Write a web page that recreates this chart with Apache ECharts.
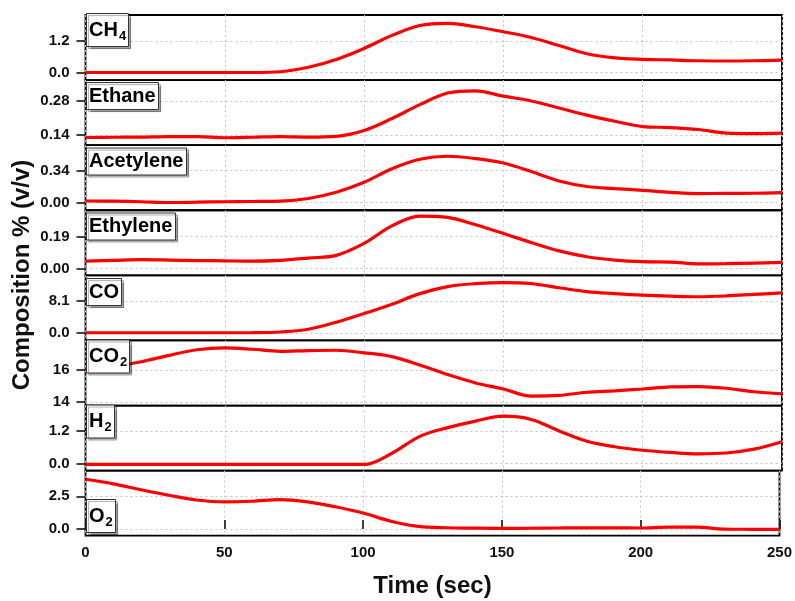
<!DOCTYPE html>
<html>
<head>
<meta charset="utf-8">
<script src="https://cdn.jsdelivr.net/npm/echarts@6/dist/echarts.min.js"></script>
<style>
  html, body { margin: 0; padding: 0; background: #fff; }
  #chart { width: 795px; height: 601px; }
</style>
</head>
<body>
<div id="chart"></div>
<script>
// time axis (sec)
const time = [0, 10, 20, 30, 40, 50, 60, 70, 80, 90, 100, 110, 120, 130, 140, 150, 160, 170, 180, 190, 200, 210, 220, 230, 240, 250];

// composition % (v/v)
const ch4 = [0, 0, 0, 0, 0, 0, 0, 0.03, 0.2, 0.5, 0.92, 1.42, 1.8, 1.88, 1.75, 1.56, 1.34, 1.03, 0.72, 0.56, 0.505, 0.48, 0.45, 0.44, 0.45, 0.47];
const ethane = [0.129, 0.13, 0.131, 0.133, 0.133, 0.128, 0.13, 0.133, 0.131, 0.134, 0.158, 0.207, 0.264, 0.312, 0.321, 0.299, 0.279, 0.25, 0.221, 0.196, 0.174, 0.17, 0.162, 0.147, 0.145, 0.147];
const acetylene = [0.018, 0.016, 0.01, 0.002, 0.006, 0.01, 0.013, 0.017, 0.045, 0.11, 0.216, 0.36, 0.46, 0.492, 0.467, 0.42, 0.33, 0.23, 0.172, 0.15, 0.131, 0.11, 0.097, 0.098, 0.1, 0.106];
const ethylene = [0.044, 0.048, 0.052, 0.05, 0.047, 0.045, 0.043, 0.048, 0.062, 0.078, 0.15, 0.255, 0.314, 0.306, 0.262, 0.21, 0.155, 0.105, 0.07, 0.05, 0.04, 0.038, 0.027, 0.028, 0.032, 0.036];
const co = [0, 0, 0, 0, 0, 0, 0.02, 0.2, 0.9, 2.7, 4.9, 7.3, 10.0, 11.8, 12.55, 12.8, 12.55, 11.5, 10.5, 10.0, 9.6, 9.35, 9.2, 9.4, 9.8, 10.2];
const co2 = [16.0, 16.2, 16.5, 16.9, 17.25, 17.37, 17.28, 17.15, 17.2, 17.22, 17.06, 16.82, 16.3, 15.7, 15.18, 14.8, 14.36, 14.4, 14.6, 14.69, 14.8, 14.93, 14.95, 14.85, 14.63, 14.5];
const h2 = [-0.025, -0.025, -0.025, -0.025, -0.025, -0.025, -0.025, -0.025, -0.025, -0.025, -0.03, 0.38, 1.0, 1.32, 1.56, 1.74, 1.62, 1.2, 0.82, 0.62, 0.49, 0.41, 0.36, 0.39, 0.53, 0.8];
const o2 = [3.8, 3.45, 3.0, 2.58, 2.22, 2.07, 2.12, 2.25, 2.08, 1.7, 1.22, 0.6, 0.2, 0.1, 0.07, 0.05, 0.06, 0.08, 0.1, 0.09, 0.08, 0.15, 0.15, 0.0, -0.02, -0.03];

const gases = [ch4, ethane, acetylene, ethylene, co, co2, h2, o2];
const gasLabels = ['{a|CH}{s|4}', '{a|Ethane}', '{a|Acetylene}', '{a|Ethylene}', '{a|CO}', '{a|CO}{s|2}', '{a|H}{s|2}', '{a|O}{s|2}'];
const yTicks = [[0, 1.2], [0.14, 0.28], [0, 0.34], [0, 0.19], [0, 8.1], [14, 16], [0, 1.2], [0, 2.5]];
const yDecimals = [1, 2, 2, 2, 1, 0, 1, 1];
const yRanges = [[-0.29, 2.2], [0.0975, 0.365], [-0.08, 0.609], [-0.042, 0.349], [-1.96, 14.66], [13.77, 17.83], [-0.257, 2.13], [-0.51, 4.46]];
const labelTops = [15, 81, 146.5, 211.5, 277, 341.5, 406.5, 501];

const chart = echarts.init(document.getElementById('chart'));

const plotLeft = 85.5;
const plotWidth = 696.5;
const plotTop = 15;
const panelH = 65.09;
const n = gases.length;

const grids = [];
const xAxes = [];
const yAxes = [];
const series = [];
const titles = [];

const dotted = { show: true, lineStyle: { color: '#c4c4c4', type: [2, 3], width: 1 } };
const tickFont = { color: '#111', fontSize: 15, fontWeight: 'bold', fontFamily: 'Liberation Sans, Arial, sans-serif' };

for (let i = 0; i < n; i += 1) {
  const last = i === n - 1;
  grids.push({
    left: plotLeft,
    width: plotWidth,
    top: plotTop + i * panelH,
    height: panelH,
    show: true,
    borderColor: '#000',
    borderWidth: 1.8,
    backgroundColor: 'transparent',
  });
  xAxes.push({
    type: 'value',
    gridIndex: i,
    min: 0,
    max: 250,
    interval: 50,
    axisLine: { show: false },
    axisTick: last ? { show: true, inside: true, length: 9, lineStyle: { color: '#111', width: 1.6 } } : { show: false },
    axisLabel: last ? Object.assign({ show: true, margin: 10 }, tickFont) : { show: false },
    splitLine: dotted,
    name: last ? 'Time (sec)' : '',
    nameLocation: 'middle',
    nameGap: 39,
    nameTextStyle: { color: '#111', fontSize: 24, fontWeight: 'bold', fontFamily: 'Liberation Sans, Arial, sans-serif' },
  });
  const dec = yDecimals[i];
  yAxes.push({
    type: 'value',
    gridIndex: i,
    min: yRanges[i][0],
    max: yRanges[i][1],
    axisLine: { show: false },
    axisTick: { show: true, customValues: yTicks[i], length: 9, lineStyle: { color: '#111', width: 1.6 } },
    axisLabel: Object.assign({
      show: true,
      customValues: yTicks[i],
      margin: 16,
      formatter: (v) => Number(v).toFixed(dec),
    }, tickFont),
    splitLine: dotted,
  });
  series.push({
    type: 'line',
    xAxisIndex: i,
    yAxisIndex: i,
    data: time.map((t, j) => [t, gases[i][j]]),
    smooth: 0.35,
    showSymbol: false,
    lineStyle: { color: '#ff0000', width: 3.2 },
    z: 3,
  });
  titles.push({
    text: gasLabels[i],
    left: 86,
    top: labelTops[i],
    padding: [4, 3, 4, 3],
    backgroundColor: '#fff',
    borderColor: '#333',
    borderWidth: 1,
    shadowColor: 'rgba(0,0,0,0.35)',
    shadowOffsetX: 2,
    shadowOffsetY: 2,
    shadowBlur: 1,
    z: 10,
    textStyle: {
      rich: {
        a: { fontSize: 20, fontWeight: 'bold', color: '#000', fontFamily: 'Liberation Sans, Arial, sans-serif', lineHeight: 22 },
        s: { fontSize: 13, fontWeight: 'bold', color: '#000', fontFamily: 'Liberation Sans, Arial, sans-serif', padding: [12, 0, 0, 1], lineHeight: 22 },
      },
    },
  });
}

const option = {
  backgroundColor: '#fff',
  animation: false,
  title: titles,
  grid: grids,
  xAxis: xAxes,
  yAxis: yAxes,
  series,
  graphic: [{
    type: 'text',
    x: 22,
    y: 275,
    rotation: Math.PI / 2,
    style: {
      text: 'Composition % (v/v)',
      fill: '#111',
      font: 'bold 24px "Liberation Sans", Arial, sans-serif',
      textAlign: 'center',
      textVerticalAlign: 'middle',
    },
  }],
};

chart.setOption(option);
</script>
</body>
</html>
